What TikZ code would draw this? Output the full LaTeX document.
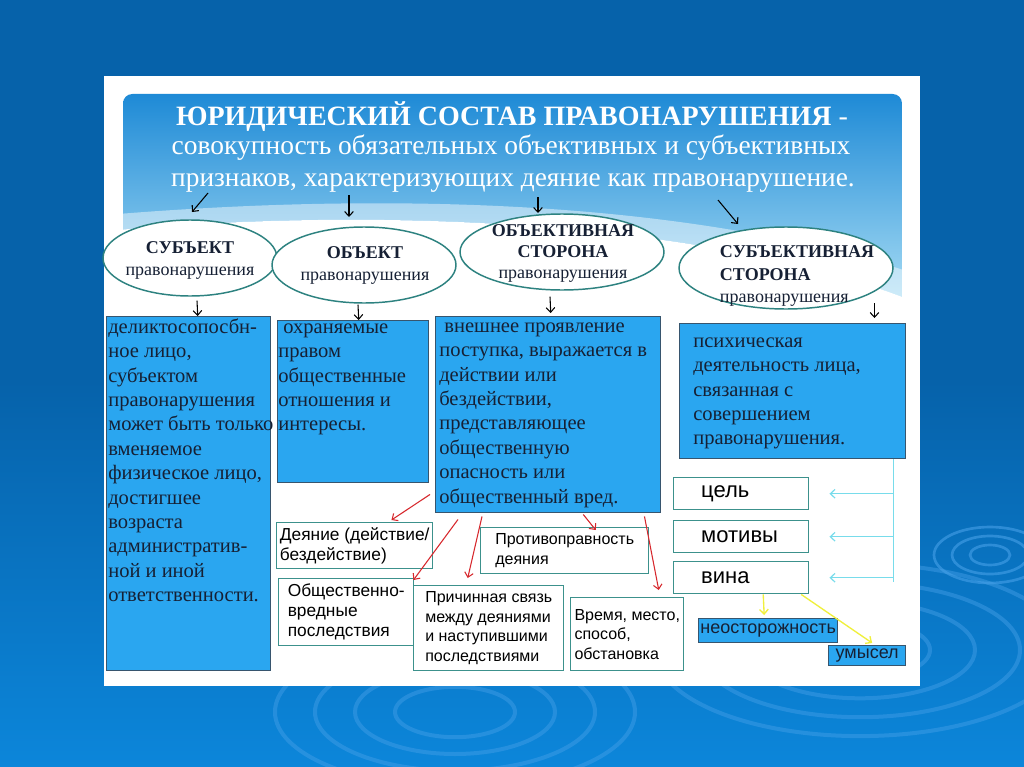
\documentclass[tikz,border=0pt]{standalone}
\usepackage{fontspec}
\setmainfont{Liberation Serif}
\newfontfamily\arialf{Liberation Sans}
\usetikzlibrary{arrows.meta,shapes.geometric,calc}

\definecolor{bgtop}{RGB}{6,98,170}
\definecolor{bgbot}{RGB}{12,134,218}
\definecolor{ripple}{RGB}{70,160,232}
\definecolor{hdrtop}{RGB}{30,138,214}
\definecolor{hdrbot}{RGB}{170,222,245}
\definecolor{ovalline}{RGB}{45,130,128}
\definecolor{boxblue}{RGB}{42,166,240}
\definecolor{boxline}{RGB}{55,85,110}
\definecolor{boxink}{RGB}{22,32,52}
\definecolor{tealline}{RGB}{60,145,140}
\definecolor{redline}{RGB}{215,40,45}
\definecolor{cyanline}{RGB}{120,220,235}
\definecolor{yelline}{RGB}{240,240,60}

\begin{document}
\begin{tikzpicture}[x=0.75pt,y=0.75pt,yscale=-1,xscale=1,
  >={Straight Barb[length=3.5pt,width=6.5pt]},
  oval/.style={ellipse,draw=ovalline,fill=white,line width=1.1pt,inner sep=0pt},
  ovaltext/.style={inner sep=0pt,align=center,text=boxink,font=\fontsize{13.5}{16.5}\selectfont},
  bluebox/.style={anchor=north west,draw=boxline,fill=boxblue,line width=1.1pt,inner sep=0pt},
  boxtext/.style={anchor=north west,inner sep=0pt,align=left,text=boxink,font=\fontsize{15.4}{18.3}\selectfont},
  whitebox/.style={anchor=north west,draw=tealline,fill=white,line width=1.1pt,inner sep=0pt,align=left,text=black,font=\arialf\fontsize{12}{14.6}\selectfont},
  signbox/.style={whitebox,text width=60pt,minimum width=101.25pt,minimum height=24pt,font=\arialf\fontsize{16.5}{18}\selectfont},
  smallbox/.style={anchor=north west,draw=boxline,fill=boxblue,line width=1pt,inner sep=0pt,text=boxink,font=\arialf\fontsize{13.5}{15}\selectfont},
  arr/.style={->,line width=0.8pt},
  redarr/.style={->,line width=0.8pt,draw=redline},
  cyanarr/.style={->,line width=0.9pt,draw=cyanline},
  yelarr/.style={->,line width=1pt,draw=yelline}]
\useasboundingbox (0,0) rectangle (1024,767);

%Background
\fill[bgtop] (0,0) rectangle (1024,767);
\shade[top color=bgtop,bottom color=bgbot] (0,380) rectangle (1024,767);
\foreach \r in {20,38,56} \draw[ripple,line width=2pt,opacity=.6] (990,555) ellipse ({\r} and {0.5*\r});
\foreach \r in {60,100,140,180} \draw[ripple,line width=3pt,opacity=.45] (455,712) ellipse ({\r} and {0.42*\r});
\foreach \r in {70,115,160,205} \draw[ripple,line width=3pt,opacity=.45] (860,650) ellipse ({\r} and {0.42*\r});

%Panel and header
\fill[white] (104,76) rectangle (920,686);
\shade[top color=hdrtop,bottom color=hdrbot,rounded corners=7pt] (123,94) rectangle (902,305);
\fill[white] (118,230) .. controls (400,205) and (720,225) .. (910,300) -- (910,312) -- (118,312) -- cycle;
\fill[white,opacity=.45] (118,214) .. controls (420,190) and (700,205) .. (910,272) -- (910,300) .. controls (720,225) and (400,205) .. (118,230) -- cycle;

% Title
\node[anchor=base,text=white,font=\bfseries\fontsize{21}{24}\selectfont] (title) at (512,125) {ЮРИДИЧЕСКИЙ СОСТАВ ПРАВОНАРУШЕНИЯ {\mdseries -}};
\node[anchor=base,text=white,font=\fontsize{20.6}{23}\selectfont] (defn1) at (511,154) {совокупность обязательных объективных и субъективных};
\node[anchor=base,text=white,font=\fontsize{20.5}{23}\selectfont] (defn2) at (513,186) {признаков, характеризующих деяние как правонарушение.};

% Ovals
\node[oval,minimum width=130.5pt,minimum height=57pt] (subj) at (190,258) {};
\node[oval,minimum width=138pt,minimum height=57pt] (obj) at (364,265) {};
\node[oval,minimum width=153pt,minimum height=57pt] (objs) at (562,252) {};
\node[oval,minimum width=160.5pt,minimum height=61.5pt] (subjs) at (786,268) {};
\node[ovaltext] (subjtxt) at (190,260) {\textbf{СУБЪЕКТ}\\правонарушения};
\node[ovaltext] (objtxt) at (365,265) {\textbf{ОБЪЕКТ}\\правонарушения};
\node[ovaltext,font=\fontsize{13.5}{15.75}\selectfont] (objstxt) at (563,253) {\textbf{ОБЪЕКТИВНАЯ}\\\textbf{СТОРОНА}\\правонарушения};
\node[ovaltext,align=left,font=\fontsize{13.5}{17}\selectfont] (subjstxt) at ($(subjs.center)+(11,8)$) {\textbf{СУБЪЕКТИВНАЯ}\\\textbf{СТОРОНА}\\правонарушения};

% Arrows from the title
\coordinate (h1a) at (208,193); \coordinate (h1b) at (192,212);
\coordinate (h2a) at (349,195); \coordinate (h2b) at (349,217);
\coordinate (h3a) at (538,197); \coordinate (h3b) at (538,213);
\coordinate (h4a) at (718,200); \coordinate (h4b) at (738,224);
\foreach \n in {1,...,4} \draw[arr] (h\n a) -- (h\n b);

% Blue boxes
\node[bluebox,minimum width=123pt,minimum height=265.5pt] (subjbox) at (106,316) {};
\node[bluebox,minimum width=113.25pt,minimum height=121.5pt] (objbox) at (277,320) {};
\node[bluebox,minimum width=168.75pt,minimum height=147pt] (objsbox) at (435,316) {};
\node[bluebox,minimum width=169.5pt,minimum height=101.25pt] (subjsbox) at (679,323) {};
\node[boxtext] (subjboxtxt) at (108,316) {\strut деликтосопосбн-\\ное лицо,\\субъектом\\правонарушения\\может быть только\\вменяемое\\физическое лицо,\\достигшее\\возраста\\административ-\\ной и иной\\ответственности.};
\node[boxtext] (objboxtxt) at (278,316) {\strut\hspace*{0.25em}охраняемые\\правом\\общественные\\отношения и\\интересы.};
\node[boxtext] (objsboxtxt) at (439,315) {\strut\hspace*{0.25em}внешнее проявление\\поступка, выражается в\\действии или\\бездействии,\\представляющее\\общественную\\опасность или\\общественный вред.};
\node[boxtext] (subjsboxtxt) at (693,330) {\strut психическая\\деятельность лица,\\связанная с\\совершением\\правонарушения.};

% Arrows from the ovals
\draw[arr] ($(subj.south)+(7,4)$) -- ($(subjbox.north)+(9,0)$);
\draw[arr] ($(obj.south)+(-6,1)$) -- ($(objbox.north)+(5.5,0)$);
\draw[arr] ($(objs.south)+(-12,6)$) -- ($(objsbox.north)+(2.5,-3)$);
\draw[arr] ($(subjsbox.north east)+(-32,-20)$) -- ($(subjsbox.north east)+(-32,-5)$);

% White boxes
\node[whitebox,font=\arialf\fontsize{13}{15}\selectfont,minimum width=117pt,minimum height=34.5pt] (deyan) at (276,522) {Деяние (действие/\\бездействие)};
\node[whitebox,font=\arialf\fontsize{13}{15}\selectfont,minimum width=101.25pt,minimum height=50.25pt] (vred) at (278,578) {Общественно-\\вредные\\последствия};
\node[whitebox,minimum width=126pt,minimum height=34.5pt] (protiv) at (480,527) {Противоправность\\деяния};
\node[whitebox,minimum width=112.5pt,minimum height=63.75pt] (prich) at (413,585) {Причинная связь\\между деяниями\\и наступившими\\последствиями};
\node[whitebox,minimum width=84.75pt,minimum height=54.75pt] (vremya) at (570,597) {Время, место,\\способ,\\обстановка};

% Red arrows
\draw[redarr] ($(objsbox.south west)+(-5,-19)$) -- ($(deyan.north east)+(-42,-2)$);
\draw[redarr] ($(objsbox.south west)+(23,6)$) -- ($(vred.north east)+(-1,2)$);
\draw[redarr] ($(objsbox.south west)+(47,3)$) -- ($(prich.north)+(-21,-7)$);
\draw[redarr] ($(objsbox.south)+(35,1)$) -- ($(protiv.north)+(31,3)$);
\draw[redarr] ($(objsbox.south east)+(-17,3)$) -- ($(vremya.north)+(31.5,-7)$);

% Features of the subjective side
\node[signbox] (cel) at (673,477) {цель};
\node[signbox] (motiv) at (673,520) {мотивы};
\node[signbox] (vina) at (673,561) {вина};
\coordinate (vtop) at ($(subjsbox.south east)+(-13,0)$);
\coordinate (vbot) at (vtop |- vina.east);
\draw[cyanline,line width=0.9pt] (vtop) -- ($(vbot)+(0,4)$);
\foreach \n in {cel,motiv,vina} \draw[cyanarr] (vtop |- \n.east) -- ($(\n.east)+(20,0)$);

% Forms of guilt
\node[smallbox,minimum width=104.25pt,minimum height=18pt] (neost) at (698,618) {неосторожность};
\node[smallbox,minimum width=57.75pt,minimum height=15pt] (umys) at (828,645) {умысел};
\draw[yelarr] ($(vina.south)+(22,0)$) -- ($(neost.north)+(-4,-3)$);
\draw[yelarr] ($(vina.south)+(60,0)$) -- ($(umys.north)+(5,-2)$);

\end{tikzpicture}
\end{document}
